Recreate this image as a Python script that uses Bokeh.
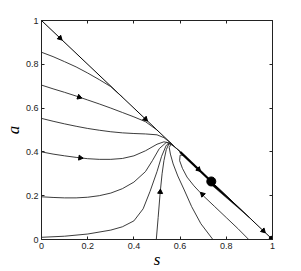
import math
from bokeh.plotting import figure
from bokeh.models import LinearAxis, FixedTicker, Range1d
from bokeh.embed import file_html
from bokeh.resources import INLINE

# ---- data ----
tick_vals = [0, 0.2, 0.4, 0.6, 0.8, 1]
tick_labels = ["0", "0.2", "0.4", "0.6", "0.8", "1"]

diag_s = [0, 1]
diag_a = [1, 0]

traj_A_s = [0, 0.05, 0.1, 0.15, 0.2, 0.25, 0.3, 0.35]
traj_A_a = [0.855, 0.835, 0.812, 0.788, 0.76, 0.73, 0.698, 0.65]

traj_B_s = [0, 0.05, 0.1, 0.15, 0.2, 0.25, 0.3, 0.35, 0.4, 0.45, 0.5]
traj_B_a = [0.705, 0.688, 0.672, 0.655, 0.637, 0.619, 0.6, 0.58, 0.56, 0.538, 0.5]

traj_C_s = [0, 0.05, 0.1, 0.15, 0.2, 0.25, 0.3, 0.35, 0.4, 0.45, 0.5, 0.53, 0.56, 0.6]
traj_C_a = [0.553, 0.54, 0.528, 0.517, 0.507, 0.499, 0.492, 0.487, 0.484, 0.482, 0.478, 0.465, 0.44, 0.4]

traj_D_s = [0, 0.05, 0.1, 0.15, 0.2, 0.25, 0.3, 0.35, 0.4, 0.45, 0.5, 0.53, 0.56, 0.6]
traj_D_a = [0.4, 0.39, 0.382, 0.375, 0.369, 0.366, 0.366, 0.37, 0.382, 0.405, 0.435, 0.446, 0.44, 0.4]

traj_E_s = [0, 0.05, 0.1, 0.15, 0.2, 0.25, 0.3, 0.35, 0.4, 0.45, 0.48, 0.51, 0.54, 0.57, 0.6]
traj_E_a = [0.195, 0.192, 0.19, 0.19, 0.193, 0.2, 0.212, 0.232, 0.262, 0.31, 0.36, 0.415, 0.443, 0.43, 0.4]

traj_F_s = [0, 0.1, 0.2, 0.3, 0.35, 0.4, 0.44, 0.47, 0.5, 0.52, 0.54, 0.56, 0.6]
traj_F_a = [0.01, 0.015, 0.025, 0.043, 0.058, 0.085, 0.14, 0.22, 0.31, 0.38, 0.43, 0.44, 0.4]

traj_G_s = [0.497, 0.505, 0.514, 0.522, 0.53, 0.54, 0.553, 0.57, 0.6]
traj_G_a = [0, 0.1, 0.217, 0.3, 0.36, 0.41, 0.44, 0.43, 0.4]

traj_H_s = [0.742, 0.69, 0.65, 0.618, 0.59, 0.57, 0.558, 0.553, 0.56, 0.575, 0.6]
traj_H_a = [0, 0.072, 0.15, 0.226, 0.29, 0.345, 0.39, 0.42, 0.435, 0.425, 0.4]

traj_I_s = [0.897, 0.85, 0.8, 0.75, 0.7, 0.66, 0.63, 0.61, 0.598, 0.6, 0.615, 0.63]
traj_I_a = [0, 0.05, 0.1, 0.15, 0.2, 0.245, 0.285, 0.325, 0.36, 0.385, 0.385, 0.37]

# converged bundle along the diagonal
bundle_s = [0.6, 0.735]
bundle_a = [0.4, 0.265]
wedge_s = [0.735, 0.9, 0.735]
wedge_a = [0.265, 0.1, 0.25]

# arrow heads: position and direction
arrow_s = [0.08, 0.45, 0.163, 0.168, 0.514, 0.697, 0.96, 0.68]
arrow_a = [0.92, 0.55, 0.65, 0.373, 0.217, 0.206, 0.04, 0.32]
arrow_ds = [1, 1, 1, 1, 0.07, -1, 1, 1]
arrow_da = [-1, -1, -0.35, -0.12, 1, 1, -1, -1]

# fixed points
fixed_s = [0.735, 1.0]
fixed_a = [0.265, 0.0]
fixed_size = [9, 7]

# ---- figure ----
p = figure(width=301, height=271, x_range=Range1d(0, 1), y_range=Range1d(0, 1),
           output_backend="svg", toolbar_location=None,
           min_border_left=39, min_border_right=29, min_border_top=20, min_border_bottom=31)
p.grid.visible = False
p.outline_line_color = "#222222"
p.outline_line_width = 1
p.background_fill_color = "white"
p.border_fill_color = "white"

overrides = {v: t for v, t in zip(tick_vals, tick_labels)}
for ax in (p.xaxis[0], p.yaxis[0]):
    ax.ticker = FixedTicker(ticks=tick_vals)
    ax.major_label_overrides = overrides
    ax.major_tick_in = 3
    ax.major_tick_out = 0
    ax.minor_tick_in = 0
    ax.minor_tick_out = 0
    ax.major_label_text_font = "Liberation Sans"
    ax.major_label_text_font_size = "9px"
    ax.major_label_text_color = "#222222"
    ax.axis_line_color = "#222222"
    ax.major_tick_line_color = "#222222"
    ax.axis_label_text_font = "Liberation Serif"
    ax.axis_label_text_font_style = "italic"
    ax.axis_label_text_font_size = "17px"
    ax.axis_label_text_color = "black"

p.xaxis[0].axis_label = "s"
p.yaxis[0].axis_label = "a"
p.xaxis[0].major_label_standoff = 3
p.yaxis[0].major_label_standoff = 3
p.xaxis[0].axis_label_standoff = -2
p.yaxis[0].axis_label_standoff = 0

for loc in ("right", "above"):
    ax = LinearAxis(ticker=FixedTicker(ticks=tick_vals), major_tick_in=3, major_tick_out=0,
                    minor_tick_in=0, minor_tick_out=0, major_label_text_color=None,
                    major_label_standoff=0, axis_line_color="#222222",
                    major_tick_line_color="#222222")
    p.add_layout(ax, loc)

line_col = "#262626"
p.line(diag_s, diag_a, line_color="black", line_width=1)
for s_, a_ in [(traj_A_s, traj_A_a), (traj_B_s, traj_B_a), (traj_C_s, traj_C_a),
               (traj_D_s, traj_D_a), (traj_E_s, traj_E_a), (traj_F_s, traj_F_a),
               (traj_G_s, traj_G_a), (traj_H_s, traj_H_a), (traj_I_s, traj_I_a)]:
    p.line(s_, a_, line_color=line_col, line_width=0.9)

p.line(bundle_s, bundle_a, line_color="black", line_width=2.2)
p.patch(wedge_s, wedge_a, fill_color="black", line_color="black", line_width=0.5)

angles = [math.atan2(da, ds) - math.pi / 2 for ds, da in zip(arrow_ds, arrow_da)]
p.scatter(arrow_s, arrow_a, marker="triangle", size=5, angle=angles,
          fill_color="black", line_color="black")

p.scatter(fixed_s, fixed_a, marker="circle", size=fixed_size,
          fill_color="black", line_color="black")

open("out.html", "w").write(file_html(p, INLINE))
